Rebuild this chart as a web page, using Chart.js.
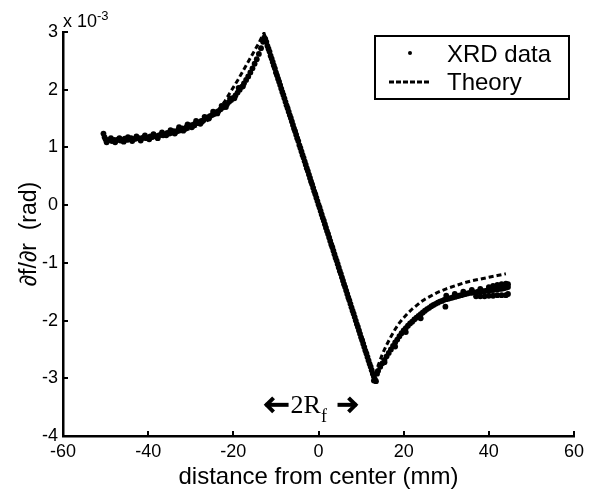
<!DOCTYPE html>
<html>
<head>
<meta charset="utf-8">
<script src="https://cdn.jsdelivr.net/npm/chart.js@4.4.1/dist/chart.umd.min.js"></script>
<style>
html,body{margin:0;padding:0;background:#fff;}
canvas{display:block;}
</style>
</head>
<body>
<canvas id="c" width="593" height="491"></canvas>
<script>
// ---- labels / ticks ----
const xTicks = [-60, -40, -20, 0, 20, 40, 60];
const yTicks = [-4, -3, -2, -1, 0, 1, 2, 3];
const yMultiplierLabel = "x 10";
const yMultiplierExp = "-3";
const xTitle = "distance from center (mm)";
const yTitle = "\u2202f/\u2202r  (rad)";
const seriesNames = ["XRD data", "Theory"];

// ---- XRD data: [distance (mm), df/dr (x10^-3 rad)] ----
const xrdLeft = [[-50.5,1.24],[-50.25,1.18],[-50,1.14],[-49.5,1.12],[-49,1.13],[-48.5,1.11],[-48,1.13],[-47.5,1.12],[-47,1.14],[-46.5,1.12],[-46,1.13],[-45.5,1.15],[-45,1.13],[-44.5,1.14],[-44,1.16],[-43.5,1.14],[-43,1.15],[-42.5,1.17],[-42,1.15],[-41.5,1.16],[-41,1.18],[-40.5,1.16],[-40,1.17],[-39.5,1.19],[-39,1.18],[-38.5,1.20],[-38,1.19],[-37.5,1.21],[-37,1.22],[-36.5,1.21],[-36,1.23],[-35.5,1.25],[-35,1.24],[-34.5,1.26],[-34,1.28],[-33.5,1.27],[-33,1.30],[-32.5,1.31],[-32,1.33],[-31.5,1.32],[-31,1.35],[-30.5,1.36],[-30,1.38],[-29.5,1.39],[-29,1.41],[-28.5,1.42],[-28,1.44],[-27.5,1.46],[-27,1.47],[-26.5,1.50],[-26,1.52],[-25.5,1.54],[-25,1.56],[-24.5,1.58],[-24,1.61],[-23.5,1.63],[-23,1.66],[-22.5,1.69],[-22,1.72],[-21.5,1.75],[-21,1.79],[-20.5,1.82],[-20,1.86],[-19.5,1.90],[-19,1.95],[-18.5,2.00],[-18,2.05],[-17.5,2.11],[-17,2.17],[-16.5,2.23],[-16,2.30],[-15.5,2.37],[-15,2.45],[-14.5,2.53],[-14,2.62],[-13.5,2.72],[-13,2.83],[-12.75,2.90]];
const xrdLeftSpread = [[-49.75,1.09],[-48.75,1.16],[-47.75,1.09],[-46.75,1.16],[-45.75,1.10],[-44.75,1.18],[-43.75,1.11],[-42.75,1.19],[-41.75,1.12],[-40.75,1.21],[-39.75,1.14],[-38.75,1.23],[-37.75,1.16],[-36.75,1.26],[-35.75,1.21],[-34.75,1.30],[-33.75,1.24],[-32.75,1.35],[-31.75,1.29],[-30.75,1.40],[-29.75,1.35],[-28.75,1.46],[-27.75,1.41],[-26.75,1.53],[-25.75,1.50],[-24.75,1.62],[-23.75,1.59],[-22.75,1.72],[-21.75,1.70],[-20.75,1.85],[-19.75,1.85],[-18.75,2.03],[-17.75,2.06]];
const xrdSteep = [[-12.5,2.88],[-12.25,2.83],[-12,2.76],[-11.75,2.71],[-11.5,2.66],[-11.25,2.59],[-11,2.54],[-10.75,2.48],[-10.5,2.42],[-10.25,2.37],[-10,2.30],[-9.75,2.25],[-9.5,2.19],[-9.25,2.14],[-9,2.08],[-8.75,2.02],[-8.5,1.96],[-8.25,1.91],[-8,1.85],[-7.75,1.79],[-7.5,1.73],[-7.25,1.68],[-7,1.62],[-6.75,1.56],[-6.5,1.51],[-6.25,1.45],[-6,1.39],[-5.75,1.33],[-5.5,1.28],[-5.25,1.22],[-5,1.16],[-4.75,1.11],[-4.5,1.04],[-4.25,0.99],[-4,0.93],[-3.75,0.87],[-3.5,0.82],[-3.25,0.76],[-3,0.70],[-2.75,0.64],[-2.5,0.59],[-2.25,0.53],[-2,0.47],[-1.75,0.41],[-1.5,0.36],[-1.25,0.30],[-1,0.24],[-0.75,0.19],[-0.5,0.13],[-0.25,0.07],[0,0.01],[0.25,-0.04],[0.5,-0.10],[0.75,-0.16],[1,-0.22],[1.25,-0.27],[1.5,-0.33],[1.75,-0.39],[2,-0.45],[2.25,-0.50],[2.5,-0.56],[2.75,-0.62],[3,-0.68],[3.25,-0.73],[3.5,-0.79],[3.75,-0.85],[4,-0.91],[4.25,-0.96],[4.5,-1.02],[4.75,-1.08],[5,-1.14],[5.25,-1.19],[5.5,-1.25],[5.75,-1.31],[6,-1.37],[6.25,-1.42],[6.5,-1.48],[6.75,-1.54],[7,-1.60],[7.25,-1.65],[7.5,-1.71],[7.75,-1.77],[8,-1.83],[8.25,-1.88],[8.5,-1.94],[8.75,-2.00],[9,-2.06],[9.25,-2.11],[9.5,-2.17],[9.75,-2.23],[10,-2.29],[10.25,-2.34],[10.5,-2.40],[10.75,-2.46],[11,-2.52],[11.25,-2.57],[11.5,-2.63],[11.75,-2.69],[12,-2.75],[12.25,-2.80],[12.5,-2.86],[12.75,-2.92],[13,-2.97],[13.25,-3.02],[13.5,-3.05],[13.0,-3.04]];
const xrdRight = [[13.75,-2.92],[14,-2.87],[14.5,-2.80],[15,-2.74],[15.5,-2.68],[16,-2.62],[16.5,-2.56],[17,-2.50],[17.5,-2.44],[18,-2.38],[18.5,-2.33],[19,-2.27],[19.5,-2.22],[20,-2.17],[20.5,-2.13],[21,-2.09],[21.5,-2.05],[22,-2.02],[22.5,-1.98],[23,-1.95],[23.5,-1.92],[24,-1.89],[24.5,-1.86],[25,-1.83],[25.5,-1.80],[26,-1.78],[26.5,-1.75],[27,-1.73],[27.5,-1.71],[28,-1.69],[28.5,-1.67],[29,-1.66],[29.5,-1.64],[30,-1.63],[30.5,-1.62],[31,-1.61],[31.5,-1.60],[32,-1.59],[32.5,-1.58],[33,-1.57],[33.5,-1.56],[34,-1.55],[34.5,-1.54],[35,-1.53],[35.5,-1.52],[36,-1.52],[36.5,-1.51],[37,-1.51],[37.5,-1.50],[38,-1.50],[38.5,-1.49],[39,-1.49],[39.5,-1.48],[40,-1.48],[40.5,-1.47],[41,-1.47],[41.5,-1.46],[42,-1.46],[42.5,-1.45],[43,-1.45],[43.5,-1.44],[44,-1.43],[44.5,-1.42]];
const xrdRightSpread = [[30,-1.57],[32,-1.54],[34,-1.50],[36,-1.47],[38,-1.45],[40,-1.42],[41,-1.40],[42,-1.38],[43,-1.37],[44,-1.36],[44.5,-1.37],[15.5,-2.72],[18,-2.45],[20.5,-2.20],[24,-1.96],[29.8,-1.76],[37,-1.58],[38,-1.58],[39,-1.58],[40,-1.57],[41,-1.57],[42,-1.56],[43,-1.56],[44,-1.56],[44.5,-1.54]];

// ---- Theory curve ----
const theoryX = [-50,-48,-46,-44,-42,-40,-38,-36,-34,-32,-30,-28,-26,-25,-24,-23,-22,-21,-20,-19,-18,-17,-16,-15,-14,-13.4,-12.8,13.2,13.6,14,15,16,17,18,19,20,21,22,23,24,25,26,27,28,30,32,34,36,38,40,42,44];
const theoryY = [1.13,1.12,1.12,1.13,1.14,1.16,1.18,1.21,1.24,1.28,1.33,1.39,1.47,1.52,1.60,1.69,1.80,1.92,2.04,2.16,2.29,2.42,2.55,2.68,2.81,2.90,2.98,-3.0,-2.88,-2.78,-2.58,-2.42,-2.28,-2.15,-2.04,-1.95,-1.87,-1.80,-1.74,-1.68,-1.63,-1.59,-1.55,-1.51,-1.45,-1.40,-1.35,-1.31,-1.28,-1.25,-1.22,-1.19];

// annotation position (data coords)
const arrowLeftTip = -12.9, arrowRightTip = 9.4, arrowY = -3.46;

const FONT = "'Liberation Sans', Arial, Helvetica, sans-serif";
const SERIF = "'Liberation Serif', 'Times New Roman', serif";

const decor = {
  id: 'decor',
  afterDraw(chart) {
    const ctx = chart.ctx, xs = chart.scales.x, ys = chart.scales.y, a = chart.chartArea;
    ctx.save();
    ctx.strokeStyle = '#000';
    ctx.fillStyle = '#000';
    ctx.lineWidth = 2;
    xTicks.forEach(v => {
      const px = Math.round(xs.getPixelForValue(v));
      ctx.beginPath(); ctx.moveTo(px, a.bottom); ctx.lineTo(px, a.bottom - 5); ctx.stroke();
    });
    yTicks.forEach(v => {
      const py = Math.round(ys.getPixelForValue(v));
      ctx.beginPath(); ctx.moveTo(a.left, py); ctx.lineTo(a.left + 5, py); ctx.stroke();
    });
    ctx.textBaseline = 'alphabetic';
    ctx.textAlign = 'left';
    ctx.font = '18px ' + FONT;
    ctx.fillText(yMultiplierLabel, a.left, 27);
    const w = ctx.measureText(yMultiplierLabel).width;
    ctx.font = '13px ' + FONT;
    ctx.fillText(yMultiplierExp, a.left + w, 20);

    // legend
    ctx.lineWidth = 2;
    ctx.strokeRect(375, 36, 194, 63);
    ctx.beginPath(); ctx.arc(410, 53, 2, 0, Math.PI * 2); ctx.fill();
    ctx.lineWidth = 3;
    ctx.setLineDash([5, 2]);
    ctx.beginPath(); ctx.moveTo(389, 82); ctx.lineTo(431, 82); ctx.stroke();
    ctx.setLineDash([]);
    ctx.font = '24px ' + FONT;
    ctx.textBaseline = 'middle';
    ctx.fillText(seriesNames[0], 447, 55);
    ctx.fillText(seriesNames[1], 447, 83);

    // 2R_f annotation
    const lx = xs.getPixelForValue(arrowLeftTip), rx = xs.getPixelForValue(arrowRightTip), ay = ys.getPixelForValue(arrowY);
    ctx.lineWidth = 4;
    ctx.lineCap = 'butt';
    ctx.lineJoin = 'miter';
    ctx.beginPath(); ctx.moveTo(lx + 2, ay); ctx.lineTo(lx + 25, ay); ctx.stroke();
    ctx.beginPath(); ctx.moveTo(lx + 10, ay - 7); ctx.lineTo(lx + 3, ay); ctx.lineTo(lx + 10, ay + 7); ctx.stroke();
    ctx.beginPath(); ctx.moveTo(rx - 21, ay); ctx.lineTo(rx - 2, ay); ctx.stroke();
    ctx.beginPath(); ctx.moveTo(rx - 10, ay - 7); ctx.lineTo(rx - 3, ay); ctx.lineTo(rx - 10, ay + 7); ctx.stroke();
    ctx.textBaseline = 'alphabetic';
    ctx.font = '26px ' + SERIF;
    ctx.fillText('2R', lx + 27, ay + 8);
    const w2 = ctx.measureText('2R').width;
    ctx.font = '18px ' + SERIF;
    ctx.fillText('f', lx + 27 + w2, ay + 17);
    ctx.restore();
  }
};

const toPts = arr => arr.map(p => ({x: p[0], y: p[1]}));
const xrdPoints = [].concat(toPts(xrdLeft), toPts(xrdLeftSpread), toPts(xrdSteep), toPts(xrdRight), toPts(xrdRightSpread));

const data = {
  datasets: [
    {
      label: seriesNames[1],
      data: theoryX.map((x, i) => ({x: x, y: theoryY[i]})),
      borderColor: '#000',
      borderWidth: 3,
      borderDash: [5, 3],
      pointRadius: 0,
      showLine: true,
      fill: false,
      tension: 0
    },
    {
      label: seriesNames[0],
      data: xrdPoints,
      backgroundColor: '#000',
      borderColor: '#000',
      pointRadius: 2.9,
      pointBorderWidth: 0,
      showLine: false
    }
  ]
};

new Chart(document.getElementById('c'), {
  type: 'scatter',
  data: data,
  plugins: [decor],
  options: {
    responsive: false,
    animation: false,
    devicePixelRatio: 1,
    layout: {padding: {left: 0, right: 19, top: 32, bottom: 0}},
    plugins: {legend: {display: false}, tooltip: {enabled: false}},
    scales: {
      x: {
        type: 'linear',
        min: -60, max: 60,
        afterBuildTicks: s => { s.ticks = xTicks.map(v => ({value: v})); },
        afterFit: s => { s.height = 55; },
        grid: {display: false, drawTicks: false},
        border: {display: true, color: '#000', width: 2.5},
        ticks: {color: '#000', font: {family: FONT, size: 18}, padding: 5, maxRotation: 0, autoSkip: false},
        title: {display: true, text: xTitle, color: '#000', font: {family: FONT, size: 24}, padding: {top: 0, bottom: -1}}
      },
      y: {
        type: 'linear',
        min: -4, max: 3,
        afterBuildTicks: s => { s.ticks = yTicks.map(v => ({value: v})); },
        afterFit: s => { s.width = 63; },
        grid: {display: false, drawTicks: false},
        border: {display: true, color: '#000', width: 2.5},
        ticks: {color: '#000', font: {family: FONT, size: 18}, padding: 5, autoSkip: false},
        title: {display: true, text: yTitle, color: '#000', font: {family: FONT, size: 23}, padding: {top: 16, bottom: 0}}
      }
    }
  }
});
</script>
</body>
</html>
